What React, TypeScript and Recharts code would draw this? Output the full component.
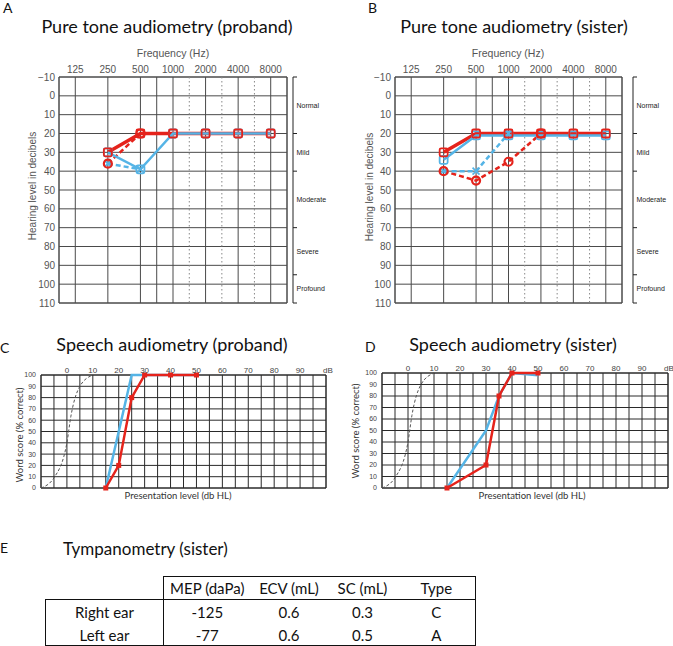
import { LineChart, Line, XAxis, YAxis, CartesianGrid, ReferenceLine, ReferenceArea } from 'recharts';

const RED = '#e5231b';
const BLUE = '#55b4e6';
const GRID = '#4a4a4a';
const LABEL_FONT = "'Liberation Sans', Arial, sans-serif";
const TITLE_FONT = "Lato, 'Open Sans', sans-serif";

// pure tone audiometry: x = octave index (125 Hz = 0)
const FREQ_LABELS = ['125', '250', '500', '1000', '2000', '4000', '8000'];
const FREQ_GRID = [-0.5, 0, 1, 2, 2.5, 3, 4, 5, 6, 6.5];
const FREQ_DOTTED = [3.5, 4.5, 5.5];
const DB_TICKS = [-10, 0, 10, 20, 30, 40, 50, 60, 70, 80, 90, 100, 110];

const SEVERITY_BOUNDS = [-10, 20, 40, 70, 95, 110];
const SEVERITY_MIDS = [5, 30, 55, 82.5, 102.5];
const SEVERITY_NAMES = ['Normal', 'Mild', 'Moderate', 'Severe', 'Profound'];

const probandRedSolid = [null, 30, 20, 20, 20, 20, 20];
const probandRedDashed = [null, 36, 20, null, null, null, null];
const probandBlueSolid = [null, 30, 39, 20, 20, 20, 20];
const probandBlueDashed = [null, 36, 39, null, null, null, null];

const sisterRedSolid = [null, 30, 20, 20, 20, 20, 20];
const sisterRedDashed = [null, 40, 45, 35, 20, null, null];
const sisterBlueSolid = [null, 34, 21, 21, 21, 21, 21];
const sisterBlueDashed = [null, 40, 40, 20, null, null, null];

// speech audiometry
const SPEECH_X_GRID = [-10, -5, 0, 5, 10, 15, 20, 25, 30, 35, 40, 45, 50, 55, 60, 65, 70, 75, 80, 85, 90, 95, 100];
const SPEECH_X_LABELS = [0, 10, 20, 30, 40, 50, 60, 70, 80, 90];
const SPEECH_Y_TICKS = [0, 10, 20, 30, 40, 50, 60, 70, 80, 90, 100];

const refLevels = [-10, -5, 0, 1.5, 5, 10];
const refScores = [0, 9, 40, 63, 90, 100];

const probandSpeechLevels = [15, 20, 25, 30, 40, 50];
const probandSpeechBlue = [0, 50, 100, 100, 100, 100];
const probandSpeechRed = [0, 20, 80, 100, 100, 100];

const sisterSpeechLevels = [15, 30, 35, 40, 50];
const sisterSpeechBlue = [0, 50, 80, 100, 98];
const sisterSpeechRed = [0, 20, 80, 100, 100];

// tympanometry
const TYMPANO_COLUMNS = ['MEP (daPa)', 'ECV (mL)', 'SC (mL)', 'Type'];
const TYMPANO_EARS = ['Right ear', 'Left ear'];
const TYMPANO_MEP = ['-125', '-77'];
const TYMPANO_ECV = ['0.6', '0.6'];
const TYMPANO_SC = ['0.3', '0.5'];
const TYMPANO_TYPE = ['C', 'A'];

const toRows = (rs: any[], rd: any[], bs: any[], bd: any[]) =>
  FREQ_LABELS.map((_, i) => ({ x: i, redSolid: rs[i], redDashed: rd[i], blueSolid: bs[i], blueDashed: bd[i] }));

const toPoints = (xs: number[], ys: number[]) => xs.map((x, i) => ({ x, y: ys[i] }));

function makeDot(kind: string, color: string) {
  return (p: any) => {
    const { cx, cy, value, index } = p;
    const k = `${kind}-${index}`;
    if (value == null || cx == null || cy == null) return <g key={k} />;
    if (kind === 'square')
      return <rect key={k} x={cx - 4} y={cy - 4} width={8} height={8} rx={1.5} fill="none" stroke={color} strokeWidth={1.8} />;
    if (kind === 'circle')
      return <circle key={k} cx={cx} cy={cy} r={4} fill="none" stroke={color} strokeWidth={2.2} />;
    if (kind === 'cross')
      return (
        <g key={k} stroke={color} strokeWidth={1.8}>
          <line x1={cx - 3.5} y1={cy - 3.5} x2={cx + 3.5} y2={cy + 3.5} />
          <line x1={cx - 3.5} y1={cy + 3.5} x2={cx + 3.5} y2={cy - 3.5} />
        </g>
      );
    return <rect key={k} x={cx - 2.5} y={cy - 2.5} width={5} height={5} fill={color} />;
  };
}

function SeverityTick(props: any) {
  const { x, y, payload } = props;
  const name = SEVERITY_NAMES[SEVERITY_MIDS.indexOf(payload.value)];
  return (
    <text x={x + 0.5} y={y + 2.5} fontSize={7} fill="#222" fontFamily={LABEL_FONT}>
      {name}
    </text>
  );
}

const dbAxis = { type: 'number' as const, domain: [-10, 110], reversed: true, allowDataOverflow: true, interval: 0 as const };

function Audiogram({ rows, width, leftWidth, gap, sevWidth }: any) {
  return (
    <LineChart width={width} height={310} data={rows} margin={{ top: 57, right: 0, bottom: 7, left: 0 }}>
      <CartesianGrid stroke={GRID} />
      {FREQ_DOTTED.map((v) => (
        <ReferenceLine key={v} x={v} stroke="#888" strokeDasharray="1.5 2.5" />
      ))}
      <ReferenceArea x1={-0.5} x2={6.5} y1={-10} y2={110} fill="none" stroke={GRID} />
      <XAxis
        type="number"
        dataKey="x"
        orientation="top"
        domain={[-0.5, 6.5]}
        ticks={FREQ_GRID}
        interval={0}
        tickFormatter={(v: number) => (Number.isInteger(v) ? FREQ_LABELS[v] : '')}
        axisLine={false}
        tickLine={false}
        tickSize={0}
        tickMargin={4}
        height={20}
        tick={{ fontSize: 10, fill: '#555', fontFamily: LABEL_FONT }}
      />
      <YAxis
        {...dbAxis}
        ticks={DB_TICKS}
        tickFormatter={(v: number) => (v < 0 ? `\u2212${-v}` : String(v))}
        width={leftWidth}
        axisLine={false}
        tickLine={false}
        tickSize={0}
        tickMargin={4}
        tick={{ fontSize: 10, fill: '#555', fontFamily: LABEL_FONT }}
      />
      {/* right side: spacer, then the severity bracket, then its labels */}
      <YAxis yAxisId="r1" orientation="right" {...dbAxis} ticks={[]} width={gap} axisLine={false} tickLine={false} tick={false} />
      <YAxis
        yAxisId="r2"
        orientation="right"
        {...dbAxis}
        ticks={SEVERITY_BOUNDS}
        width={3}
        axisLine={{ stroke: '#222' }}
        tickLine={{ stroke: '#222' }}
        tickSize={4}
        tick={() => <g />}
      />
      <YAxis
        yAxisId="r3"
        orientation="right"
        {...dbAxis}
        ticks={SEVERITY_MIDS}
        width={sevWidth}
        axisLine={false}
        tickLine={false}
        tickSize={0}
        tickMargin={0}
        tick={(p: any) => <SeverityTick key={p.index} {...p} />}
      />
      <Line dataKey="redSolid" stroke={RED} strokeWidth={3.5} dot={false} isAnimationActive={false} />
      <Line dataKey="redDashed" stroke={RED} strokeWidth={2.5} strokeDasharray="5 3" dot={false} isAnimationActive={false} />
      <Line dataKey="blueSolid" stroke={BLUE} strokeWidth={2.5} dot={makeDot('square', BLUE)} isAnimationActive={false} />
      <Line dataKey="blueDashed" stroke={BLUE} strokeWidth={2.5} strokeDasharray="5 3" dot={makeDot('cross', BLUE)} isAnimationActive={false} />
      <Line dataKey="redSolid" stroke="none" dot={makeDot('square', RED)} isAnimationActive={false} />
      <Line dataKey="redDashed" stroke="none" dot={makeDot('circle', RED)} isAnimationActive={false} />
    </LineChart>
  );
}

function SpeechChart({ blue, red, width, height, leftWidth, right }: any) {
  return (
    <LineChart width={width} height={height} margin={{ top: 0, right, bottom: 7, left: 0 }}>
      <CartesianGrid stroke="#2a2a2a" />
      <ReferenceArea x1={-10} x2={100} y1={0} y2={100} fill="none" stroke="#2a2a2a" />
      <XAxis
        type="number"
        dataKey="x"
        orientation="top"
        domain={[-10, 100]}
        allowDataOverflow
        ticks={SPEECH_X_GRID}
        interval={0}
        tickFormatter={(v: number) => (SPEECH_X_LABELS.includes(v) ? String(v) : '')}
        axisLine={false}
        tickLine={false}
        tickSize={0}
        tickMargin={2.5}
        height={20}
        tick={{ fontSize: 8, fill: '#444', fontFamily: LABEL_FONT }}
      />
      <YAxis
        type="number"
        domain={[0, 100]}
        ticks={SPEECH_Y_TICKS}
        interval={0}
        width={leftWidth}
        axisLine={false}
        tickLine={false}
        tickSize={0}
        tickMargin={5}
        tick={{ fontSize: 7, fill: '#444', fontFamily: LABEL_FONT }}
      />
      <Line data={toPoints(refLevels, refScores)} dataKey="y" type="monotone" stroke="#555" strokeWidth={1} strokeDasharray="3 2" dot={false} isAnimationActive={false} />
      <Line data={blue} dataKey="y" stroke={BLUE} strokeWidth={2.5} dot={false} isAnimationActive={false} />
      <Line data={red} dataKey="y" stroke={RED} strokeWidth={2.5} dot={makeDot('fill', RED)} isAnimationActive={false} />
    </LineChart>
  );
}

const cell = (extra: any) => ({ padding: 0, textAlign: 'center' as const, ...extra });
const B = '1.5px solid #111';

export default function App() {
  return (
    <div style={{ position: 'absolute', left: 0, top: 0, width: 673, height: 646, background: '#fff', overflow: 'hidden' }}>
      <div style={{ position: 'absolute', left: 0, top: 0 }}>
        <Audiogram rows={toRows(probandRedSolid, probandRedDashed, probandBlueSolid, probandBlueDashed)} width={336} leftWidth={59} gap={6} sevWidth={40} />
      </div>
      <div style={{ position: 'absolute', left: 336, top: 0 }}>
        <Audiogram rows={toRows(sisterRedSolid, sisterRedDashed, sisterBlueSolid, sisterBlueDashed)} width={337} leftWidth={59} gap={11} sevWidth={37} />
      </div>
      <div style={{ position: 'absolute', left: 0, top: 355 }}>
        <SpeechChart
          blue={toPoints(probandSpeechLevels, probandSpeechBlue)}
          red={toPoints(probandSpeechLevels, probandSpeechRed)}
          width={340}
          height={140}
          leftWidth={41}
          right={14}
        />
      </div>
      <div style={{ position: 'absolute', left: 336, top: 353 }}>
        <SpeechChart
          blue={toPoints(sisterSpeechLevels, sisterSpeechBlue)}
          red={toPoints(sisterSpeechLevels, sisterSpeechRed)}
          width={337}
          height={142}
          leftWidth={46}
          right={5}
        />
      </div>

      <svg width={673} height={646} style={{ position: 'absolute', left: 0, top: 0, pointerEvents: 'none' }}>
        <g fontFamily={TITLE_FONT} fill="#111">
          <text x={3} y={13} fontSize={14}>A</text>
          <text x={368} y={13} fontSize={14}>B</text>
          <text x={0} y={353} fontSize={14}>C</text>
          <text x={365} y={352} fontSize={14}>D</text>
          <text x={0} y={553} fontSize={14}>E</text>
          <text x={167} y={33} fontSize={18} textAnchor="middle">Pure tone audiometry (proband)</text>
          <text x={514} y={33} fontSize={18} textAnchor="middle">Pure tone audiometry (sister)</text>
          <text x={172} y={351} fontSize={18} textAnchor="middle">Speech audiometry (proband)</text>
          <text x={513} y={351} fontSize={18} textAnchor="middle">Speech audiometry (sister)</text>
          <text x={63} y={555} fontSize={17}>Tympanometry (sister)</text>
        </g>
        <g fontFamily={LABEL_FONT} fill="#555" fontSize={10.5}>
          <text x={173} y={57} textAnchor="middle">Frequency (Hz)</text>
          <text x={508} y={57} textAnchor="middle">Frequency (Hz)</text>
          <text transform="translate(35.5,186) rotate(-90)" textAnchor="middle" fontSize={10}>Hearing level in decibels</text>
          <text transform="translate(372.5,187) rotate(-90)" textAnchor="middle" fontSize={10}>Hearing level in decibels</text>
        </g>
        <g fontFamily={LABEL_FONT} fill="#444" fontSize={8}>
          <text x={323} y={372.5}>dB</text>
          <text x={664} y={370.5}>dB</text>
        </g>
        <g fontFamily={TITLE_FONT} fill="#333" fontSize={9.5}>
          <text transform="translate(23,435) rotate(-90)" textAnchor="middle">Word score (% correct)</text>
          <text transform="translate(358.5,431) rotate(-90)" textAnchor="middle">Word score (% correct)</text>
          <text x={178} y={498.5} textAnchor="middle">Presentation level (db HL)</text>
          <text x={532} y={498.5} textAnchor="middle">Presentation level (db HL)</text>
        </g>
      </svg>

      <table
        style={{
          position: 'absolute',
          left: 45,
          top: 576,
          borderCollapse: 'collapse',
          tableLayout: 'fixed',
          fontFamily: TITLE_FONT,
          fontSize: 15,
          color: '#111',
        }}
      >
        <colgroup>
          {[118, 87, 77, 70, 78].map((w, i) => (
            <col key={i} style={{ width: w }} />
          ))}
        </colgroup>
        <tbody>
          <tr style={{ height: 23 }}>
            <td style={cell({})} />
            {TYMPANO_COLUMNS.map((c, i) => (
              <td
                key={c}
                style={cell({
                  borderTop: B,
                  borderLeft: i === 0 ? B : undefined,
                  borderRight: i === TYMPANO_COLUMNS.length - 1 ? B : undefined,
                })}
              >
                {c}
              </td>
            ))}
          </tr>
          {TYMPANO_EARS.map((ear, r) => (
            <tr key={ear} style={{ height: 23 }}>
              {[ear, TYMPANO_MEP[r], TYMPANO_ECV[r], TYMPANO_SC[r], TYMPANO_TYPE[r]].map((v, i) => (
                <td
                  key={i}
                  style={cell({
                    borderTop: r === 0 ? B : undefined,
                    borderBottom: r === 1 ? B : undefined,
                    borderLeft: i === 0 ? B : undefined,
                    borderRight: i === 0 || i === 4 ? B : undefined,
                    paddingTop: 2,
                  })}
                >
                  {v}
                </td>
              ))}
            </tr>
          ))}
        </tbody>
      </table>
    </div>
  );
}
